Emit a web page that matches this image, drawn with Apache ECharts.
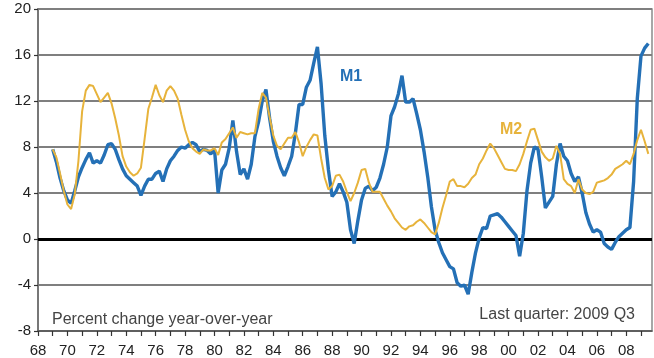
<!DOCTYPE html>
<html>
<head>
<meta charset="utf-8">
<script src="https://cdn.jsdelivr.net/npm/echarts@6/dist/echarts.min.js"></script>
<style>
  html, body { margin: 0; padding: 0; background: #fff; }
  #chart { width: 654px; height: 358px; }
</style>
</head>
<body>
<div id="chart"></div>
<script>
// Quarterly year-over-year growth, 1969 Q1 through 2009 Q3 (percent)
const startYear = 1969;

const m1 = [
  7.8, 6.7, 5.3, 4.2,      // 1969
  3.4, 3.1, 4.2, 5.4,      // 1970
  6.2, 6.9, 7.5, 6.6,      // 1971
  6.8, 6.6, 7.3, 8.2,      // 1972
  8.3, 7.8, 6.9, 6.1,      // 1973
  5.5, 5.2, 4.9, 4.6,      // 1974
  3.8, 4.6, 5.2, 5.2,      // 1975
  5.7, 5.9, 5.0, 6.1,      // 1976
  6.8, 7.2, 7.7, 8.0,      // 1977
  7.9, 8.2, 8.4, 8.2,      // 1978
  7.6, 7.8, 7.7, 7.4,      // 1979
  7.8, 4.0, 6.0, 6.5,      // 1980
  7.9, 10.3, 7.6, 5.6,     // 1981
  6.1, 5.2, 6.5, 8.9,      // 1982
  10.2, 12.0, 13.0, 10.5,  // 1983
  8.5, 7.2, 6.2, 5.5,      // 1984
  6.3, 7.2, 9.2, 11.7,     // 1985
  11.7, 13.2, 13.8, 15.3,  // 1986
  16.7, 13.5, 9.0, 6.0,    // 1987
  3.7, 4.1, 4.8, 4.1,      // 1988
  3.2, 0.8, -0.4, 1.6,     // 1989
  3.4, 4.4, 4.6, 4.2,      // 1990
  4.5, 5.3, 6.5, 8.0,      // 1991
  10.7, 11.5, 12.6, 14.2,  // 1992
  11.9, 11.9, 12.2, 10.9,  // 1993
  9.5, 7.6, 5.4, 2.8,      // 1994
  0.8, -0.3, -1.2, -1.8,   // 1995
  -2.4, -2.6, -3.8, -4.1,  // 1996
  -4.0, -4.8, -2.9, -1.2,  // 1997
  0.1, 1.0, 0.9, 2.0,      // 1998
  2.1, 2.2, 1.9, 1.5,      // 1999
  1.1, 0.7, 0.3, -1.5,     // 2000
  0.5, 4.2, 6.6, 8.0,      // 2001
  7.8, 5.4, 2.7, 3.2,      // 2002
  3.7, 6.5, 8.3, 7.2,      // 2003
  6.8, 5.7, 5.0, 5.4,      // 2004
  4.0, 2.3, 1.3, 0.6,      // 2005
  0.8, 0.6, -0.4, -0.7,    // 2006
  -0.9, -0.3, 0.2, 0.5,    // 2007
  0.8, 1.0, 5.0, 12.2,     // 2008
  15.9, 16.6, 17.0         // 2009
];

const m2 = [
  7.8, 7.1, 5.7, 4.2,      // 1969
  3.0, 2.6, 3.9, 6.8,      // 1970
  11.1, 12.9, 13.4, 13.3,  // 1971
  12.6, 11.9, 12.3, 12.7,  // 1972
  11.8, 10.5, 9.0, 7.2,    // 1973
  6.3, 5.8, 5.5, 5.7,      // 1974
  6.2, 8.7, 11.3, 12.3,    // 1975
  13.4, 12.5, 11.9, 12.9,  // 1976
  13.3, 12.9, 12.2, 10.8,  // 1977
  9.5, 8.5, 7.9, 7.6,      // 1978
  7.4, 7.8, 7.7, 7.7,      // 1979
  7.9, 7.3, 8.4, 8.7,      // 1980
  9.2, 9.7, 8.8, 9.3,      // 1981
  9.2, 9.1, 9.2, 9.2,      // 1982
  11.3, 12.7, 12.3, 10.6,  // 1983
  9.0, 8.1, 7.8, 8.3,      // 1984
  8.8, 8.8, 9.3, 8.4,      // 1985
  7.2, 8.0, 8.6, 9.1,      // 1986
  9.0, 7.0, 5.3, 4.3,      // 1987
  4.6, 5.5, 5.6, 5.0,      // 1988
  4.1, 3.3, 4.0, 4.9,      // 1989
  6.0, 6.1, 4.9, 4.1,      // 1990
  4.1, 4.1, 3.5, 2.9,      // 1991
  2.4, 1.8, 1.4, 1.0,      // 1992
  0.8, 1.1, 1.2, 1.5,      // 1993
  1.7, 1.4, 1.0, 0.6,      // 1994
  0.4, 1.4, 2.7, 3.8,      // 1995
  5.0, 5.2, 4.6, 4.6,      // 1996
  4.5, 4.8, 5.3, 5.6,      // 1997
  6.5, 7.0, 7.7, 8.3,      // 1998
  7.9, 7.3, 6.7, 6.1,      // 1999
  6.0, 6.0, 5.9, 6.5,      // 2000
  7.4, 8.5, 9.5, 9.6,      // 2001
  8.6, 7.6, 7.1, 6.8,      // 2002
  7.0, 8.1, 7.4, 5.2,      // 2003
  4.8, 4.6, 4.0, 5.2,      // 2004
  4.3, 4.0, 3.9, 4.1,      // 2005
  4.9, 5.0, 5.1, 5.3,      // 2006
  5.6, 6.1, 6.3, 6.5,      // 2007
  6.8, 6.5, 7.4, 8.6,      // 2008
  9.5, 8.5, 7.4            // 2009
];

const yTicks = { min: -8, max: 20, step: 4 };
const xRange = { min: 1968, max: 2009.75 };

const blue = '#2470b6';
const gold = '#e7b33b';
const font = '"Liberation Sans", Arial, sans-serif';

// pair each quarterly value with its fractional-year position
function toPoints(values) {
  return values.map((v, i) => [startYear + i / 4, v]);
}

const chart = echarts.init(document.getElementById('chart'), null, { renderer: 'canvas' });

chart.setOption({
  animation: false,
  backgroundColor: '#ffffff',
  grid: {
    left: 38, right: 2, top: 9, bottom: 26,
    show: true,
    borderColor: '#8a8a8a',
    borderWidth: 1.5,
    backgroundColor: '#ffffff'
  },
  xAxis: {
    type: 'value',
    min: xRange.min,
    max: xRange.max,
    interval: 1,
    axisLine: { show: true, onZero: false, lineStyle: { color: '#555', width: 1.5 } },
    axisTick: { show: true, inside: false, length: 5, lineStyle: { color: '#333', width: 1.2 } },
    splitLine: { show: false },
    axisLabel: {
      showMaxLabel: false,
      margin: 12,
      color: '#222',
      fontFamily: font,
      fontSize: 15,
      formatter: function (v) {
        if (Math.round(v) !== v || v % 2 !== 0) return '';
        return String(v).slice(2);
      }
    }
  },
  yAxis: {
    type: 'value',
    min: yTicks.min,
    max: yTicks.max,
    interval: yTicks.step,
    axisLine: { show: true, lineStyle: { color: '#777', width: 2 } },
    axisTick: { show: true, length: 4, lineStyle: { color: '#333', width: 1.2 } },
    axisLabel: { margin: 7, color: '#222', fontFamily: font, fontSize: 15 },
    splitLine: { show: true, lineStyle: { color: '#7f7f7f', width: 2 } }
  },
  series: [
    {
      name: 'M1',
      type: 'line',
      data: toPoints(m1),
      showSymbol: false,
      lineStyle: { color: blue, width: 3.4 },
      z: 3,
      markLine: {
        silent: true,
        symbol: 'none',
        label: { show: false },
        lineStyle: { color: '#000', width: 3, type: 'solid' },
        data: [{ yAxis: 0 }],
        z: 2
      }
    },
    {
      name: 'M2',
      type: 'line',
      data: toPoints(m2),
      showSymbol: false,
      lineStyle: { color: gold, width: 2 },
      z: 4
    }
  ],
  graphic: [
    {
      type: 'text', left: 52, top: 312, z: 10,
      style: { text: 'Percent change year-over-year', fill: '#444', font: '16px ' + font }
    },
    {
      type: 'text', right: 19, top: 307, z: 10,
      style: { text: 'Last quarter: 2009 Q3', fill: '#444', font: '16px ' + font }
    },
    {
      type: 'text', left: 340, top: 69, z: 10,
      style: { text: 'M1', fill: blue, font: 'bold 16px ' + font }
    },
    {
      type: 'text', left: 500, top: 122, z: 10,
      style: { text: 'M2', fill: gold, font: 'bold 16px ' + font }
    }
  ]
});
</script>
</body>
</html>
